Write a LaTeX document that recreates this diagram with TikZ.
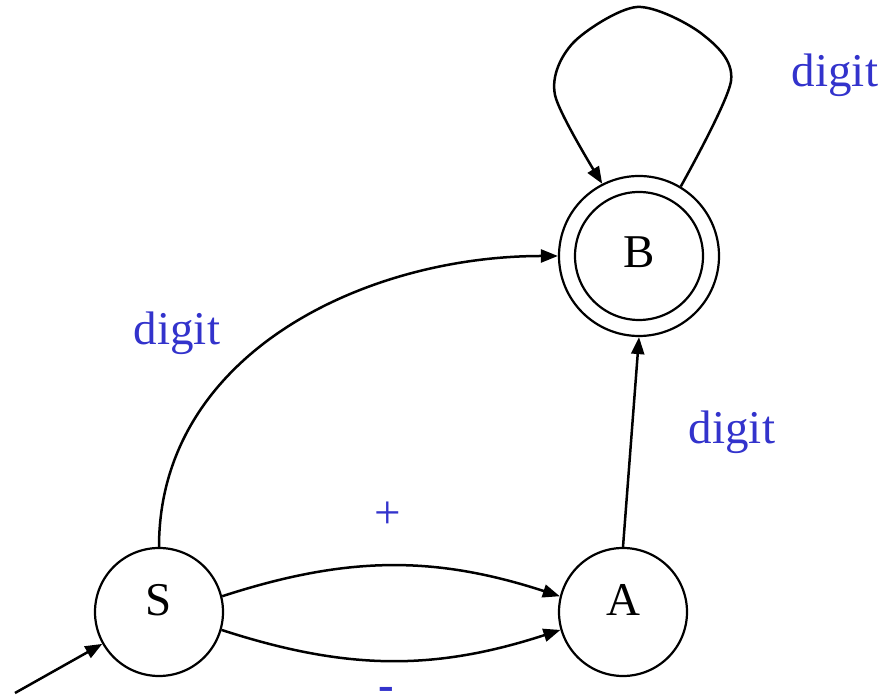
\documentclass[tikz,border=0pt]{standalone}
\usepackage{fontspec}
\setmainfont{Liberation Serif}
\usepackage{xcolor}
\usepackage{tikz}
\usetikzlibrary{arrows.meta, positioning}
\definecolor{lblblue}{RGB}{51,51,204}

\tikzset{
  state/.style={circle, draw, line width=2.2pt, minimum size=128pt, inner sep=0pt, text depth=24pt,
                font=\fontsize{47}{50}\selectfont},
  final/.style={state, minimum size=160pt},
  trans/.style={line width=2.5pt, -{Triangle[length=17pt,width=13pt]}},
  lbl/.style={text=lblblue, font=\fontsize{47}{50}\selectfont},
}

\begin{document}
\begin{tikzpicture}[x=1pt, y=1pt]
\useasboundingbox (0,0) rectangle (883,695);

% states
\node[state] (S) at (159,83) {S};
\node[state] (A) at (623,83) {A};
\node[final] (B) at (639,439) {};
\node[state, text depth=8pt] (Bin) at (B) {B};
\coordinate (init) at (15,2);

% transitions
\draw[trans] (init) -- (S);
\draw[trans] (S.14) to[bend left=18] (A.166);
\draw[trans] (S.-16) to[bend right=18] (A.-164);
\draw[trans] (A.north) -- (B.south);
\draw[trans] (S.north) to[out=90, in=180] (B.west);
\draw[trans] plot[smooth, tension=0.5] coordinates {(B.59) (731,614) (702,661) (637,688) (573,652) (555,600) (B.117)};

% labels
\node[lbl] (dloop) at (835,620) {digit};
\node[lbl] (dsb) at (177,362) {digit};
\node[lbl] (dab) at (732,263) {digit};
\node[lbl] (plus) at (388,180) {+};
\node[lbl, font=\fontsize{47}{50}\selectfont\bfseries] (minus) at (386,1) {-};
\end{tikzpicture}
\end{document}
